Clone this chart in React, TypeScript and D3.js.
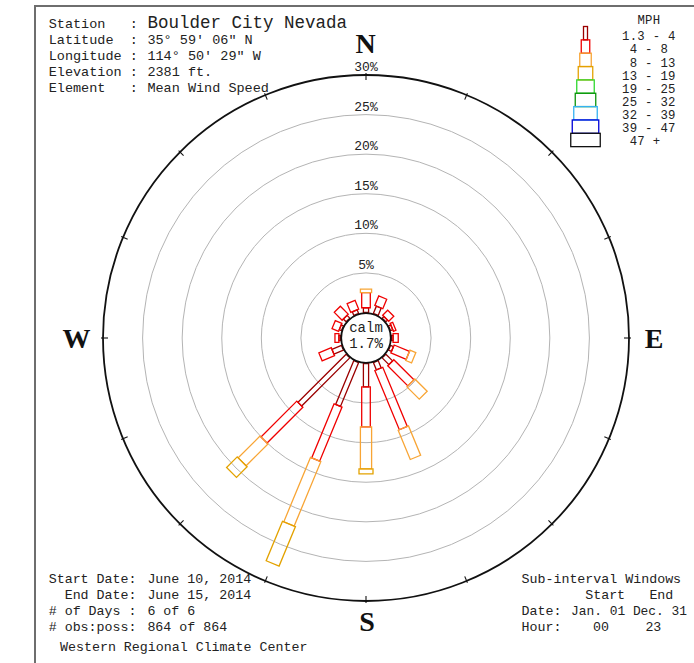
import React from "react";
import * as d3 from "d3";

// ---------- data ----------
const directions = ["N", "NNE", "NE", "ENE", "E", "ESE", "SE", "SSE", "S", "SSW", "SW", "WSW", "W", "WNW", "NW", "NNW"];
const speedClasses = ["1.3 - 4", " 4 - 8", " 8 - 13", "13 - 19", "19 - 25", "25 - 32", "32 - 39", "39 - 47", " 47 +"];
const classColors = ["#9b0000", "#f00000", "#f8a535", "#e3a200", "#2fd82f", "#0a930a", "#35b2f2", "#0000d8", "#111111"];
// percent frequency per direction for each speed class
const pct_1_3_4 = [0.6, 1.0, 0.3, 0.3, 0.2, 0.4, 1.2, 1.0, 2.95, 6.0, 8.6, 1.3, 0.2, 0.3, 0.5, 0.5];
const pct_4_8 = [1.9, 1.3, 0.9, 0.35, 0.65, 2.1, 3.6, 8.1, 5.05, 7.4, 6.4, 1.7, 0.5, 0.9, 1.4, 1.2];
const pct_8_13 = [0.45, 0, 0, 0, 0, 0.8, 2.2, 4.0, 5.3, 8.8, 3.9, 0, 0, 0, 0, 0];
const pct_13_19 = [0, 0, 0, 0, 0, 0, 0, 0, 0.65, 5.4, 1.9, 0, 0, 0, 0, 0];
const ringTicks = [5, 10, 15, 20, 25, 30];
const calmPct = 1.7;
const compassLabels = ["N", "E", "S", "W"];

const headerLabels = ["Station   :", "Latitude  :", "Longitude :", "Elevation :", "Element   :"];
const headerValues = ["Boulder City Nevada", "35° 59' 06\" N", "114° 50' 29\" W", "2381 ft.", "Mean Wind Speed"];
const periodLabels = ["Start Date:", "  End Date:", "# of Days :", "# obs:poss:"];
const periodValues = ["June 10, 2014", "June 15, 2014", "6 of 6", "864 of 864"];
const creditText = "Western Regional Climate Center";
const windowTitle = "Sub-interval Windows";
const windowColumns = ["Start", "End"];
const windowRows = ["Date:", "Hour:"];
const windowStart = ["Jan. 01", "00"];
const windowEnd = ["Dec. 31", "23"];

// ---------- layout ----------
const W = 694;
const H = 663;
const cx = 366;
const cy = 338;
const mono = "'Liberation Mono', 'DejaVu Sans Mono', monospace";
const serif = "'Liberation Serif', 'DejaVu Serif', serif";
const txt = "#222";

const rScale = d3.scaleLinear().domain([0, 30]).range([25.5, 263]);
const angleScale = d3.scalePoint<string>().domain(directions).range([0, 337.5]);
const halfWidths = [2.6, 4.3, 5.6, 7.0];

const keys = ["c0", "c1", "c2", "c3"];
const table = directions.map((d, i) => ({
  dir: d,
  c0: pct_1_3_4[i],
  c1: pct_4_8[i],
  c2: pct_8_13[i],
  c3: pct_13_19[i],
}));
const stacked = d3.stack<any>().keys(keys)(table);

function polar(deg: number, rad: number) {
  const t = (deg * Math.PI) / 180;
  return [cx + Math.sin(t) * rad, cy - Math.cos(t) * rad];
}

function segPath(deg: number, r1: number, r2: number, hw: number) {
  const t = (deg * Math.PI) / 180;
  const ux = Math.sin(t), uy = -Math.cos(t);
  const nx = Math.cos(t), ny = Math.sin(t);
  const p = d3.path();
  p.moveTo(cx + ux * r1 + nx * hw, cy + uy * r1 + ny * hw);
  p.lineTo(cx + ux * r2 + nx * hw, cy + uy * r2 + ny * hw);
  p.lineTo(cx + ux * r2 - nx * hw, cy + uy * r2 - ny * hw);
  p.lineTo(cx + ux * r1 - nx * hw, cy + uy * r1 - ny * hw);
  p.closePath();
  return p.toString();
}

export default function App() {
  const outerR = rScale(30);
  const legendX = 585.5;
  const legendTop = 26.5;
  const legendStep = 13.35;
  const charW = 7.7;

  return (
    <svg
      width={W}
      height={H}
      viewBox={`0 0 ${W} ${H}`}
      style={{ position: "absolute", left: 0, top: 0, background: "#fff" }}
    >
      <rect x={0} y={0} width={W} height={H} fill="#fff" />
      {/* frame */}
      <path d={`M35,${H} L35,6 L${W},6`} fill="none" stroke="#6e6e6e" strokeWidth={2} />

      {/* rings */}
      {ringTicks.map((p) => (
        <circle
          key={"ring" + p}
          cx={cx}
          cy={cy}
          r={rScale(p)}
          fill="none"
          stroke={p === 30 ? "#111" : "#b4b4b4"}
          strokeWidth={p === 30 ? 1.8 : 1}
        />
      ))}
      {/* ticks on outer ring */}
      {directions.map((d) => {
        const a = angleScale(d)!;
        const [x1, y1] = polar(a, outerR - 5);
        const [x2, y2] = polar(a, outerR + 2);
        return <line key={"t" + d} x1={x1} y1={y1} x2={x2} y2={y2} stroke="#111" strokeWidth={1.1} />;
      })}
      {/* ring labels */}
      {ringTicks.map((p) => (
        <text
          key={"rl" + p}
          x={cx}
          y={cy - rScale(p) - 4}
          textAnchor="middle"
          fontFamily={mono}
          fontSize={13}
          fill={txt}
        >
          {p + "%"}
        </text>
      ))}

      {/* bars */}
      {stacked.map((series, k) =>
        series.map((seg, i) => {
          const v = seg[1] - seg[0];
          if (v <= 0) return null;
          const a = angleScale(directions[i])!;
          return (
            <path
              key={"b" + k + "-" + i}
              d={segPath(a, rScale(seg[0]), rScale(seg[1]), halfWidths[k])}
              fill="none"
              stroke={classColors[k]}
              strokeWidth={1.3}
            />
          );
        })
      )}

      {/* calm circle */}
      <circle cx={cx} cy={cy} r={rScale(0) - 0.7} fill="#fff" stroke="#111" strokeWidth={1.8} />
      <text x={cx} y={cy - 6} textAnchor="middle" fontFamily={mono} fontSize={14} fill={txt}>
        calm
      </text>
      <text x={cx} y={cy + 9.5} textAnchor="middle" fontFamily={mono} fontSize={14} fill={txt}>
        {calmPct + "%"}
      </text>

      {/* compass letters */}
      {compassLabels.map((l) => {
        const pos: Record<string, [number, number]> = {
          N: [365.6, 53],
          E: [654, 348],
          S: [367, 630.5],
          W: [76.4, 348],
        };
        return (
          <text
            key={"c" + l}
            x={pos[l][0]}
            y={pos[l][1]}
            textAnchor="middle"
            fontFamily={serif}
            fontWeight="bold"
            fontSize={28}
            fill="#111"
          >
            {l}
          </text>
        );
      })}

      {/* header */}
      {headerLabels.map((l, i) => (
        <g key={"h" + i}>
          <text x={48.7} y={27.5 + i * 16} fontFamily={mono} fontSize={13.5} fill={txt} style={{ whiteSpace: "pre" }}>
            {l}
          </text>
          <text
            x={147.4}
            y={27.5 + i * 16}
            fontFamily={mono}
            fontSize={i === 0 ? 17.5 : 13.5}
            fill={txt}
            style={{ whiteSpace: "pre" }}
          >
            {headerValues[i]}
          </text>
        </g>
      ))}

      {/* legend */}
      {speedClasses.map((s, i) => {
        const w = 4 + i * 3 + (i > 0 ? 1.5 : 0);
        return (
          <rect
            key={"lg" + i}
            x={legendX - w / 2}
            y={legendTop + i * legendStep}
            width={w}
            height={legendStep}
            fill="none"
            stroke={classColors[i]}
            strokeWidth={1.3}
          />
        );
      })}
      <text x={622 + 2 * charW} y={24} fontFamily={mono} fontSize={12.3} letterSpacing={0.3} fill={txt}>
        MPH
      </text>
      {speedClasses.map((s, i) => (
        <text
          key={"lt" + i}
          x={622}
          y={40.3 + i * 13.1}
          fontFamily={mono}
          fontSize={12.3}
          letterSpacing={0.3}
          fill={txt}
          style={{ whiteSpace: "pre" }}
        >
          {s}
        </text>
      ))}

      {/* period block */}
      {periodLabels.map((l, i) => (
        <g key={"p" + i}>
          <text x={48.7} y={583 + i * 16} fontFamily={mono} fontSize={13.3} fill={txt} style={{ whiteSpace: "pre" }}>
            {l}
          </text>
          <text x={147.4} y={583 + i * 16} fontFamily={mono} fontSize={13.3} fill={txt} style={{ whiteSpace: "pre" }}>
            {periodValues[i]}
          </text>
        </g>
      ))}
      <text x={60} y={650.5} fontFamily={mono} fontSize={13.3} fill={txt}>
        {creditText}
      </text>

      {/* sub-interval windows */}
      <text x={521.5} y={583} fontFamily={mono} fontSize={13.3} fill={txt}>
        {windowTitle}
      </text>
      <text x={585.2} y={599} fontFamily={mono} fontSize={13.3} fill={txt}>
        {windowColumns[0]}
      </text>
      <text x={649.4} y={599} fontFamily={mono} fontSize={13.3} fill={txt}>
        {windowColumns[1]}
      </text>
      <text x={521.5} y={615} fontFamily={mono} fontSize={13.3} fill={txt}>
        {windowRows[0]}
      </text>
      <text x={571} y={615} fontFamily={mono} fontSize={12.9} fill={txt} style={{ whiteSpace: "pre" }}>
        {windowStart[0] + " " + windowEnd[0]}
      </text>
      <text x={521.5} y={631} fontFamily={mono} fontSize={13.3} fill={txt}>
        {windowRows[1]}
      </text>
      <text x={593} y={631} fontFamily={mono} fontSize={13.3} fill={txt}>
        {windowStart[1]}
      </text>
      <text x={645.4} y={631} fontFamily={mono} fontSize={13.3} fill={txt}>
        {windowEnd[1]}
      </text>
    </svg>
  );
}
